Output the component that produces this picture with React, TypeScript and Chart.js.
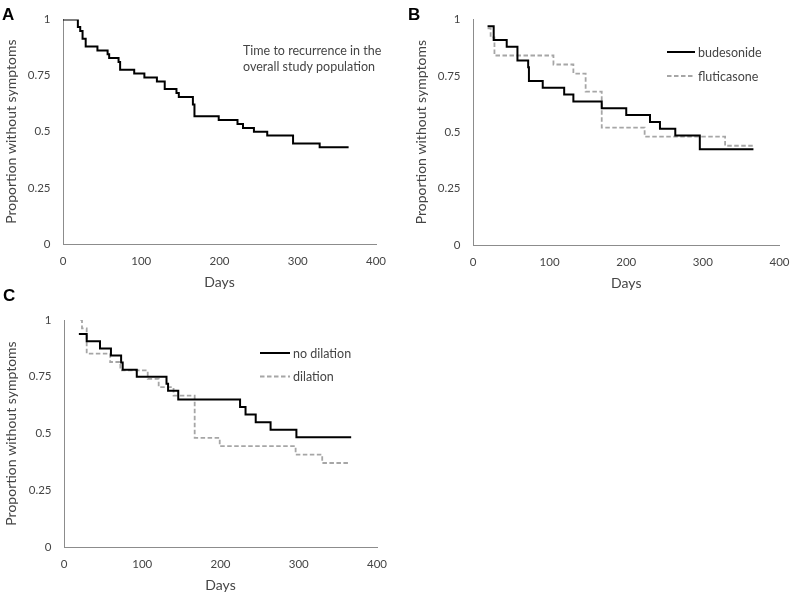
import React, { useEffect, useRef } from "react";
import { Chart, registerables } from "chart.js";

Chart.register(...registerables);

// ---------- data ----------
const xTicks = [0, 100, 200, 300, 400];
const xTickLabels = ["0", "100", "200", "300", "400"];
const yTicks = [0, 0.25, 0.5, 0.75, 1];
const yTickLabels = ["0", "0.25", "0.5", "0.75", "1"];

const xTitle = "Days";
const yTitle = "Proportion without symptoms";
const panelLetters = ["A", "B", "C"];
const noteLines = ["Time to recurrence in the", "overall study population"];

// Panel A: overall study population
const overallDays = [0, 19, 22, 25, 29, 44, 57, 59, 71, 73, 91, 104, 120, 130, 145, 148, 166, 168, 199, 223, 230, 244, 261, 294, 328, 365];
const overallSurv = [1, 0.966, 0.948, 0.914, 0.879, 0.862, 0.845, 0.828, 0.81, 0.776, 0.759, 0.741, 0.724, 0.69, 0.672, 0.655, 0.621, 0.569, 0.552, 0.534, 0.517, 0.5, 0.483, 0.448, 0.431, 0.431];

// Panel B: budesonide vs fluticasone
const budesonideLabel = "budesonide";
const budesonideDays = [19, 27, 44, 58, 72, 73, 91, 119, 131, 168, 200, 231, 244, 264, 296, 366];
const budesonideSurv = [0.97, 0.909, 0.879, 0.818, 0.788, 0.727, 0.697, 0.667, 0.636, 0.606, 0.576, 0.545, 0.515, 0.485, 0.424, 0.424];

const fluticasoneLabel = "fluticasone";
const fluticasoneDays = [19, 23, 28, 105, 131, 147, 168, 224, 329, 366];
const fluticasoneSurv = [0.96, 0.92, 0.84, 0.8, 0.76, 0.68, 0.52, 0.48, 0.44, 0.44];

// Panel C: no dilation vs dilation
const noDilationLabel = "no dilation";
const noDilationDays = [19, 29, 46, 60, 73, 75, 93, 131, 133, 146, 225, 232, 245, 264, 297, 367];
const noDilationSurv = [0.938, 0.906, 0.875, 0.844, 0.813, 0.781, 0.75, 0.719, 0.688, 0.65, 0.617, 0.584, 0.55, 0.517, 0.484, 0.484];

const dilationLabel = "dilation";
const dilationDays = [21, 23, 29, 59, 72, 107, 121, 140, 167, 199, 296, 330, 366];
const dilationSurv = [1, 0.963, 0.852, 0.815, 0.778, 0.741, 0.704, 0.667, 0.481, 0.444, 0.407, 0.37, 0.37];

// ---------- styles ----------
const FONT = "Lato";
const TICK_SIZE = 11.5;
const TITLE_SIZE = 14;
const NOTE_SIZE = 12.5;
const TEXT = "#454545";
const AXIS = "#8c8c8c";
const SOLID = "#000000";
const DASHED = "#a6a6a6";

const toPoints = (xs: number[], ys: number[]) => xs.map((x, i) => ({ x, y: ys[i] }));

const solidSeries = (label: string, xs: number[], ys: number[]) => ({
  label,
  data: toPoints(xs, ys),
  borderColor: SOLID,
  borderWidth: 2,
  borderDash: [] as number[],
  stepped: "before" as const,
  pointRadius: 0,
  fill: false,
});

const dashedSeries = (label: string, xs: number[], ys: number[]) => ({
  label,
  data: toPoints(xs, ys),
  borderColor: DASHED,
  borderWidth: 1.8,
  borderDash: [4.5, 2.5],
  stepped: "before" as const,
  pointRadius: 0,
  fill: false,
});

const overlayPlugin = {
  id: "overlay",
  afterDraw(chart: any, _args: any, opts: any) {
    const ctx = chart.ctx as CanvasRenderingContext2D;
    ctx.save();
    if (opts.letter) {
      ctx.font = `bold 17px "Liberation Sans", Arial, sans-serif`;
      ctx.fillStyle = "#000";
      ctx.textAlign = "left";
      ctx.textBaseline = "alphabetic";
      ctx.fillText(opts.letter.text, opts.letter.x, opts.letter.y);
    }
    ctx.font = `${NOTE_SIZE}px ${FONT}`;
    ctx.fillStyle = TEXT;
    if (opts.legend) {
      const lg = opts.legend;
      chart.data.datasets.forEach((ds: any, i: number) => {
        const y = lg.y + i * lg.gap;
        ctx.strokeStyle = ds.borderColor;
        ctx.lineWidth = ds.borderWidth;
        ctx.setLineDash(ds.borderDash || []);
        ctx.beginPath();
        ctx.moveTo(lg.x, y);
        ctx.lineTo(lg.x + lg.len, y);
        ctx.stroke();
        ctx.setLineDash([]);
        ctx.textAlign = "left";
        ctx.textBaseline = "middle";
        ctx.fillText(ds.label, lg.x + lg.len + 3, y + 0.5);
      });
    }
    if (opts.note) {
      ctx.textAlign = "left";
      ctx.textBaseline = "alphabetic";
      opts.note.lines.forEach((line: string, i: number) => {
        ctx.fillText(line, opts.note.x, opts.note.y + i * opts.note.gap);
      });
    }
    ctx.restore();
  },
};

type PanelSpec = {
  width: number;
  height: number;
  area: { left: number; right: number; top: number; bottom: number };
  yTitlePad: number;
  xTitlePad: number;
  datasets: any[];
  overlay: any;
};

function Panel({ spec, style }: { spec: PanelSpec; style: React.CSSProperties }) {
  const ref = useRef<HTMLCanvasElement | null>(null);
  useEffect(() => {
    if (!ref.current) return;
    const { area, width, height } = spec;
    const tickFont = { family: FONT, size: TICK_SIZE };
    const titleFont = { family: FONT, size: TITLE_SIZE };
    const chart = new Chart(ref.current, {
      type: "line",
      data: { datasets: spec.datasets },
      options: {
        animation: false,
        responsive: false,
        devicePixelRatio: 1,
        layout: {
          padding: { left: 0, top: area.top, right: width - area.right, bottom: 0 },
        },
        plugins: {
          legend: { display: false },
          tooltip: { enabled: false },
          overlay: spec.overlay,
        } as any,
        scales: {
          x: {
            type: "linear",
            min: 0,
            max: 400,
            grid: { display: false, drawTicks: false },
            border: { display: true, color: AXIS, width: 1 },
            afterBuildTicks: (scale: any) => {
              scale.ticks = xTicks.map((v) => ({ value: v }));
            },
            afterFit: (scale: any) => {
              scale.height = height - area.bottom;
            },
            ticks: {
              color: TEXT,
              font: tickFont,
              padding: 10.5,
              maxRotation: 0,
              callback: (v: any) => {
                const i = xTicks.indexOf(Number(v));
                return i >= 0 ? xTickLabels[i] : "";
              },
            },
            title: {
              display: true,
              text: xTitle,
              color: TEXT,
              font: titleFont,
              padding: { top: 0, bottom: spec.xTitlePad },
            },
          },
          y: {
            type: "linear",
            min: 0,
            max: 1,
            grid: { display: false, drawTicks: false },
            border: { display: true, color: AXIS, width: 1 },
            afterBuildTicks: (scale: any) => {
              scale.ticks = yTicks.map((v) => ({ value: v }));
            },
            afterFit: (scale: any) => {
              scale.width = area.left;
            },
            ticks: {
              color: TEXT,
              font: tickFont,
              padding: 12.5,
              callback: (v: any) => {
                const i = yTicks.indexOf(Number(v));
                return i >= 0 ? yTickLabels[i] : "";
              },
            },
            title: {
              display: true,
              text: yTitle,
              color: TEXT,
              font: titleFont,
              padding: { top: spec.yTitlePad, bottom: 0 },
            },
          },
        },
      },
      plugins: [overlayPlugin],
    } as any);
    return () => chart.destroy();
  }, [spec]);
  return (
    <canvas
      ref={ref}
      width={spec.width}
      height={spec.height}
      style={{ position: "absolute", width: spec.width, height: spec.height, ...style }}
    />
  );
}

const panelA: PanelSpec = {
  width: 400,
  height: 295,
  area: { left: 63, right: 376, top: 16, bottom: 244 },
  yTitlePad: 3.3,
  xTitlePad: 3.9,
  datasets: [solidSeries("overall", overallDays, overallSurv)],
  overlay: {
    letter: { text: panelLetters[0], x: 2, y: 20 },
    note: { lines: noteLines, x: 243, y: 55, gap: 16 },
  },
};

const panelB: PanelSpec = {
  width: 400,
  height: 295,
  area: { left: 73, right: 386, top: 18, bottom: 245 },
  yTitlePad: 13.3,
  xTitlePad: 3.3,
  datasets: [
    solidSeries(budesonideLabel, budesonideDays, budesonideSurv),
    dashedSeries(fluticasoneLabel, fluticasoneDays, fluticasoneSurv),
  ],
  overlay: {
    letter: { text: panelLetters[1], x: 8, y: 20 },
    legend: { x: 267, y: 52, gap: 24, len: 28 },
  },
};

const panelC: PanelSpec = {
  width: 400,
  height: 316,
  area: { left: 64, right: 377, top: 40, bottom: 267 },
  yTitlePad: 3.3,
  xTitlePad: 2.6,
  datasets: [
    solidSeries(noDilationLabel, noDilationDays, noDilationSurv),
    dashedSeries(dilationLabel, dilationDays, dilationSurv),
  ],
  overlay: {
    letter: { text: panelLetters[2], x: 3, y: 21 },
    legend: { x: 260, y: 73, gap: 23.5, len: 30 },
  },
};

export default function App() {
  return (
    <div
      style={{
        position: "absolute",
        left: 0,
        top: 0,
        width: 800,
        height: 596,
        background: "#ffffff",
        overflow: "hidden",
      }}
    >
      <Panel spec={panelA} style={{ left: 0, top: 0 }} />
      <Panel spec={panelB} style={{ left: 400, top: 0 }} />
      <Panel spec={panelC} style={{ left: 0, top: 280 }} />
    </div>
  );
}
